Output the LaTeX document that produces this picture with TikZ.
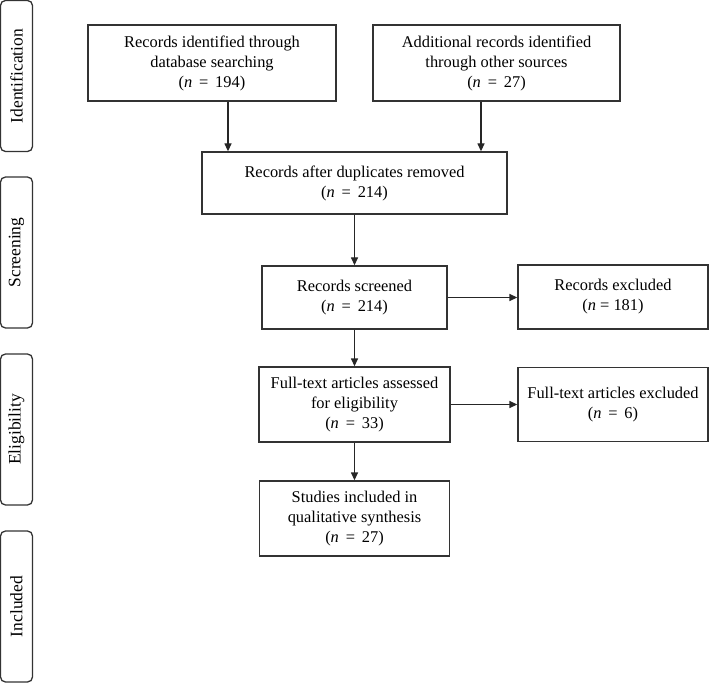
\documentclass[tikz,border=0pt]{standalone}
\usepackage{fontspec}
\setmainfont{Liberation Serif}
\usetikzlibrary{arrows.meta, positioning}
\tikzstyle{box} = [draw=black!80, line width=1.3pt, align=center, inner sep=2pt, font=\fontsize{16.4}{20}\selectfont]
\tikzstyle{phase} = [draw=black!80, line width=1.3pt, rounded corners=5pt, rotate=90, minimum width=151pt, minimum height=32pt, font=\fontsize{17.5}{20}\selectfont]
\tikzstyle{arrow} = [line width=1.3pt, draw=black!85, -{Triangle[length=8pt,width=7pt]}]

\begin{document}
\begin{tikzpicture}[x=1pt,y=-1pt]
    \useasboundingbox (0,0) rectangle (709,684);

    % Phase labels
    \node[phase] (ident) at (16.5,76) {Identification};
    \node[phase] (screen) at (16.5,252.5) {Screening};
    \node[phase] (elig) at (16.5,429.5) {Eligibility};
    \node[phase] (incl) at (16.5,606.5) {Included};

    % Identification
    \node[box, minimum width=248pt, minimum height=76pt] (recDb) at (212,63)
        {Records identified through\\database searching\\(\textit{n} \,=\, 194)};
    \node[box, minimum width=247pt, minimum height=76pt] (recOther) at (496.5,63)
        {Additional records identified\\through other sources\\(\textit{n} \,=\, 27)};

    % Screening
    \node[box, minimum width=305pt, minimum height=62pt] (recDup) at (354.5,183)
        {Records after duplicates removed\\(\textit{n} \,=\, 214)};
    \node[box, minimum width=185pt, minimum height=63pt] (recScr) at (354.5,297.5)
        {Records screened\\(\textit{n} \,=\, 214)};
    \node[box, minimum width=190pt, minimum height=64pt] (recExc) at (613,297)
        {Records excluded\\(\textit{n} = 181)};

    % Eligibility
    \node[box, minimum width=191pt, minimum height=75pt] (ftAss) at (354.5,404.5)
        {Full-text articles assessed\\for eligibility\\(\textit{n} \,=\, 33)};
    \node[box, minimum width=190pt, minimum height=74pt] (ftExc) at (613,404.5)
        {Full-text articles excluded\\(\textit{n} \,=\, 6)};

    % Included
    \node[box, minimum width=190pt, minimum height=75pt] (studInc) at (354.5,518.5)
        {Studies included in\\qualitative synthesis\\(\textit{n} \,=\, 27)};

    % Arrows
    \draw[arrow] ([xshift=16pt]recDb.south) -- ([xshift=16pt]recDb.south |- recDup.north);
    \draw[arrow] ([xshift=-15.5pt]recOther.south) -- ([xshift=-15.5pt]recOther.south |- recDup.north);
    \draw[arrow] (recDup.south) -- (recScr.north);
    \draw[arrow] (recScr.east) -- (recScr.east -| recExc.west);
    \draw[arrow] (recScr.south) -- (ftAss.north);
    \draw[arrow] (ftAss.east) -- (ftAss.east -| ftExc.west);
    \draw[arrow] (ftAss.south) -- (studInc.north);

\end{tikzpicture}
\end{document}
